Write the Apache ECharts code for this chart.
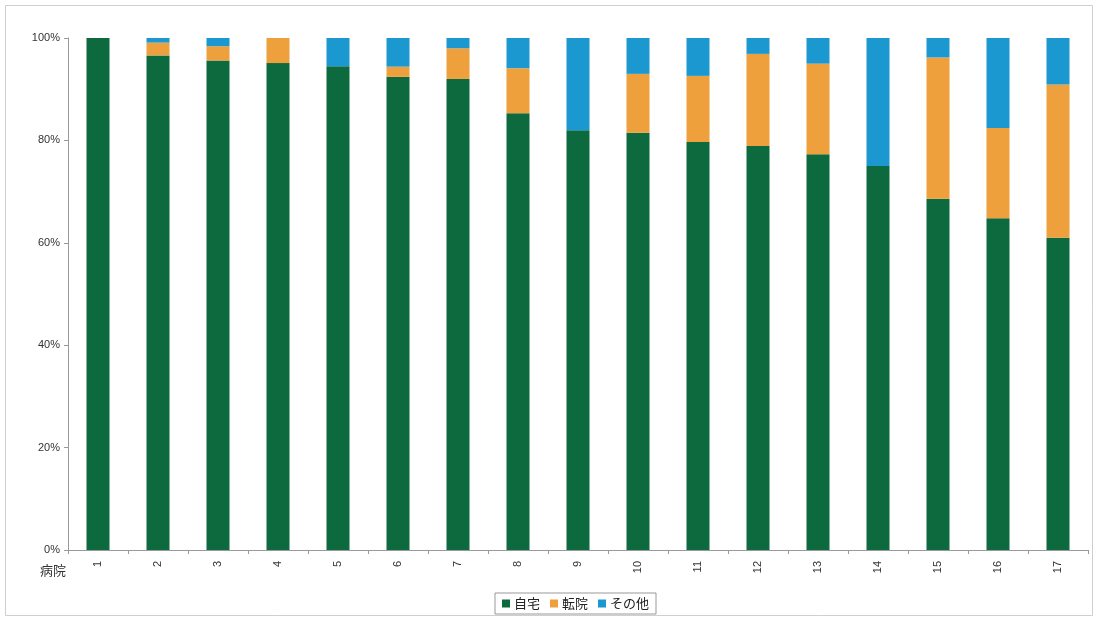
<!DOCTYPE html>
<html>
<head>
<meta charset="utf-8">
<script src="https://cdn.jsdelivr.net/npm/echarts@6/dist/echarts.min.js"></script>
<style>
html,body{margin:0;padding:0;background:#fff;}
#c{width:1102px;height:619px;}
</style>
</head>
<body>
<div id="c"></div>
<script>
const categories = ['1','2','3','4','5','6','7','8','9','10','11','12','13','14','15','16','17'];
const home =     [100, 96.6, 95.6, 95.1, 94.5, 92.4, 92.0, 85.3, 82.0, 81.5, 79.7, 78.9, 77.3, 75.0, 68.6, 64.8, 61.0];
const transfer = [0,   2.5,  2.8,  4.9,  0,    2.0,  6.0,  8.8,  0,    11.5, 12.9, 18.0, 17.7, 0,    27.6, 17.6, 29.9];
const other =    [0,   0.9,  1.6,  0,    5.5,  5.6,  2.0,  5.9,  18.0, 7.0,  7.4,  3.1,  5.0,  25.0, 3.8,  17.6, 9.1];
const seriesNames = ['自宅', '転院', 'その他'];
const yTicks = [0, 20, 40, 60, 80, 100];

const colors = ['#0c6a3e', '#eda03c', '#1b98cf'];
const chart = echarts.init(document.getElementById('c'));
const font = '"Liberation Sans", Arial, "Noto Sans CJK JP", sans-serif';
const mk = (name, data, i) => ({
  name, type: 'bar', stack: 'total', data, barWidth: 23,
  itemStyle: { color: colors[i] }
});
chart.setOption({
  animation: false,
  textStyle: { fontFamily: font },
  graphic: [
    { type: 'rect', shape: { x: 5.5, y: 5.5, width: 1087, height: 610 },
      style: { fill: 'none', stroke: '#cfcfcf', lineWidth: 1 }, silent: true },
    { type: 'text', left: 40, top: 564,
      style: { text: '病院', fontSize: 13, fill: '#333', fontFamily: '"Noto Sans CJK JP", sans-serif' } }
  ],
  legend: {
    bottom: 5, left: 495,
    data: seriesNames,
    icon: 'rect', itemWidth: 8, itemHeight: 8, itemGap: 10,
    borderColor: '#999', borderWidth: 1, padding: [4, 7, 4, 7],
    textStyle: { fontSize: 13, color: '#222', fontFamily: '"Noto Sans CJK JP", sans-serif', padding: [0, 0, 0, -1] }
  },
  grid: { left: 68, right: 14, top: 38, bottom: 69 },
  xAxis: {
    type: 'category', data: categories,
    axisLine: { lineStyle: { color: '#999' } },
    axisTick: { show: true, lineStyle: { color: '#999' }, length: 4 },
    axisLabel: { rotate: 90, fontSize: 11, color: '#333', margin: 11 }
  },
  yAxis: {
    type: 'value', min: yTicks[0], max: yTicks[yTicks.length - 1], interval: 20,
    axisLine: { show: true, lineStyle: { color: '#999' } },
    axisTick: { show: true, lineStyle: { color: '#999' }, length: 4 },
    splitLine: { show: false },
    axisLabel: { formatter: '{value}%', fontSize: 11, color: '#333', margin: 8 }
  },
  series: [mk(seriesNames[0], home, 0), mk(seriesNames[1], transfer, 1), mk(seriesNames[2], other, 2)]
});
</script>
</body>
</html>
